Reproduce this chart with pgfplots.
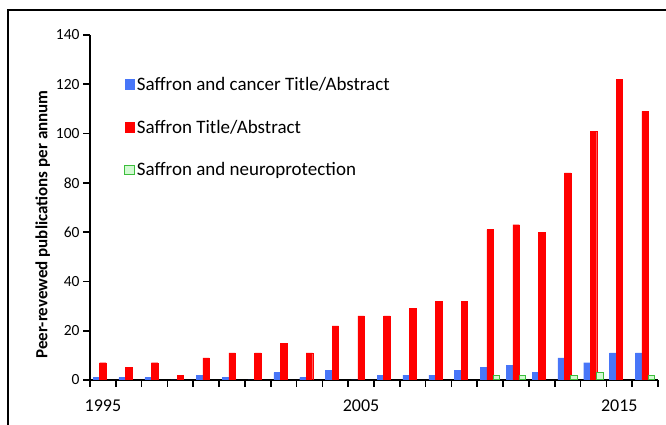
\documentclass[border=0pt]{standalone}
\usepackage{fontspec}
\setmainfont{Carlito}
\usepackage{pgfplots}
\pgfplotsset{compat=1.18}

\definecolor{cancerblue}{RGB}{72,118,248}
\definecolor{saffronred}{RGB}{255,0,0}
\definecolor{neurofill}{RGB}{210,250,210}
\definecolor{neuroline}{RGB}{60,190,60}

\begin{document}
\begin{tikzpicture}[x=1pt,y=1pt]
  \begin{axis}[
    scale only axis,
    width=568pt, height=345pt,
    at={(90pt,45pt)}, anchor=south west,
    ybar=0pt, bar width=6.5pt,
    axis lines*=left,
    axis line style={line width=1.4pt},
    xmin=1994.5, xmax=2016.5,
    ymin=0, ymax=140,
    ytick={0,20,...,140},
    % ticks sit between the years, labels are shifted to the year centres
    xtick={1994.5,1995.5,1996.5,1997.5,1998.5,1999.5,2000.5,2001.5,2002.5,
      2003.5,2004.5,2005.5,2006.5,2007.5,2008.5,2009.5,2010.5,2011.5,2012.5,
      2013.5,2014.5,2015.5,2016.5},
    xticklabels={1995,,,,,,,,,,2005,,,,,,,,,,2015,,},
    x tick label style={font=\fontsize{18}{20}\selectfont, xshift=12.9pt, yshift=-9pt},
    xtick style={draw=black, line width=1.6pt},
    ytick style={draw=black, line width=1.6pt},
    major tick length=7pt,
    tick align=outside,
    y tick label style={font=\fontsize{15.5}{18}\selectfont},
    /pgf/number format/assume math mode=true,
    /pgf/number format/1000 sep={},
    ylabel={\bfseries Peer-revewed publications per annum},
    ylabel style={font=\fontsize{17}{20}\selectfont, yshift=-1pt, xshift=-17pt},
    legend style={at={(rel axis cs:0.055,0.89)}, anchor=north west,
      draw=none, fill=none, row sep=24pt,
      font=\fontsize{19}{22}\selectfont},
    legend cell align=left,
    legend image code/.code={\draw[#1, bar width=0pt] (0pt,-4.8pt) rectangle (9.5pt,4.8pt);},
  ]
    \addplot[fill=cancerblue, draw=cancerblue] coordinates {
      (1995,1) (1996,1) (1997,1) (1998,0) (1999,2) (2000,1) (2001,0)
      (2002,3) (2003,1) (2004,4) (2005,0) (2006,2) (2007,2) (2008,2)
      (2009,4) (2010,5) (2011,6) (2012,3) (2013,9) (2014,7) (2015,11) (2016,11)};
    \addlegendentry{Saffron and cancer Title/Abstract}
    \addplot[fill=saffronred, draw=saffronred] coordinates {
      (1995,7) (1996,5) (1997,7) (1998,2) (1999,9) (2000,11) (2001,11)
      (2002,15) (2003,11) (2004,22) (2005,26) (2006,26) (2007,29) (2008,32)
      (2009,32) (2010,61) (2011,63) (2012,60) (2013,84) (2014,101) (2015,122) (2016,109)};
    \addlegendentry{Saffron Title/Abstract}
    % years with no neuroprotection papers are left out (no bar drawn)
    \addplot[fill=neurofill, draw=neuroline, line width=1pt] coordinates {
      (2010,2) (2011,2) (2013,2) (2014,3) (2016,2)};
    \addlegendentry{Saffron and neuroprotection}
  \end{axis}
  \draw[line width=1.8pt] (8,0) -- (8,415) -- (666,415);
  \pgfresetboundingbox
  \useasboundingbox (0,0) rectangle (666,425);
\end{tikzpicture}
\end{document}
